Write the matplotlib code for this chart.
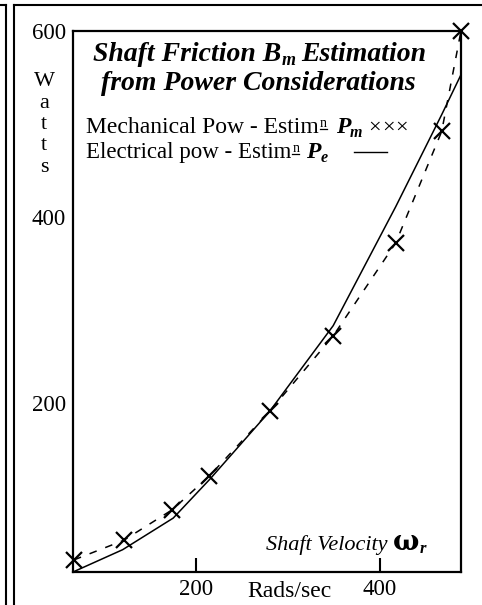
import matplotlib
matplotlib.use('Agg')
import matplotlib.pyplot as plt
from matplotlib.lines import Line2D

# ---------------- data ----------------
speed_mech = [67, 121, 174, 214, 280, 349, 417, 467, 488]
power_mech = [31, 52, 85, 121, 191, 272, 372, 492, 600]
speed_elec = [66, 120, 175, 215, 280, 349, 417, 467, 488]
power_elec = [18, 42, 76, 118, 191, 283, 411, 510, 553]
xticks = [200, 400]
yticks = [200, 400, 600]
ylabel_letters = ['W', 'a', 't', 't', 's']

W, H = 482, 605
SERIF = ['Liberation Serif', 'DejaVu Serif']
plt.rcParams['font.family'] = SERIF

fig = plt.figure(figsize=(W / 100, H / 100), dpi=100)
ax = fig.add_axes([73 / W, 1 - 572 / H, (461 - 73) / W, (572 - 31) / H])
ax.set_xlim(66, 488)
ax.set_ylim(18, 600)

ax.plot(speed_elec, power_elec, color='black', lw=1.1, clip_on=False)
ax.plot(speed_mech, power_mech, color='black', lw=1.1, linestyle=(0, (5, 6)),
        marker='x', markersize=11, markeredgewidth=1.6, clip_on=False, zorder=3)

for s in ax.spines.values():
    s.set_linewidth(1.6)
ax.set_xticks(xticks)
ax.set_yticks(yticks)
ax.set_xticklabels([str(v) for v in xticks])
ax.set_yticklabels([str(v) for v in yticks])
ax.tick_params(axis='x', direction='in', length=10, width=1.5, pad=5, labelsize=16.5)
ax.tick_params(axis='y', length=0, pad=5, labelsize=16.5)

# ---------------- helpers ----------------
def fx(x):
    return x / W

def fy(y):
    return 1 - y / H

renderer = fig.canvas.get_renderer()

def place(parts, x, y, ha='left'):
    items = []
    cx = x
    for p in parts:
        s, kw, dy, gap = p
        t = fig.text(fx(cx), fy(y + dy), s, va='baseline', ha='left', **kw)
        w = t.get_window_extent(renderer).width
        items.append((t, cx, w))
        cx += w + gap
    total = cx - x
    shift = total / 2 if ha == 'center' else 0
    out = []
    for t, tx, w in items:
        t.set_x(fx(tx - shift))
        out.append((tx - shift, w))
    return out

def fline(x0, y0, x1, y1, lw=1.2):
    fig.add_artist(Line2D([fx(x0), fx(x1)], [fy(y0), fy(y1)],
                          transform=fig.transFigure, color='black', lw=lw))

# ---------------- title ----------------
bi = dict(fontsize=20, fontweight='bold', fontstyle='italic')
bis = dict(fontsize=13, fontweight='bold', fontstyle='italic')
place([('Shaft Friction B', bi, 0, 0), ('m', bis, 4, 6), ('Estimation', bi, 0, 0)],
      260, 61, ha='center')
place([('from Power Considerations', bi, 0, 0)], 258, 90, ha='center')

# ---------------- legend texts ----------------
rm1 = dict(fontsize=17)
rm2 = dict(fontsize=16.5)
sup = dict(fontsize=10)
pb = dict(fontsize=17, fontweight='bold', fontstyle='italic')
pbs = dict(fontsize=11.5, fontweight='bold', fontstyle='italic')
xs = dict(fontsize=16)

r1 = place([('Mechanical Pow - Estim', rm1, 0, 1), ('n', sup, -6, 9),
            ('P', pb, 0, 0), ('m', pbs, 4, 6),
            ('\u00d7', xs, 0, 1), ('\u00d7', xs, 0, 1), ('\u00d7', xs, 0, 0)],
           86, 133)
nx, nw = r1[1]
fline(nx, 128.5, nx + nw, 128.5, lw=0.9)

r2 = place([('Electrical pow - Estim', rm2, 0, 1), ('n', sup, -6, 7),
            ('P', pb, 0, 0), ('e', pbs, 4, 0)], 86, 158)
nx, nw = r2[1]
fline(nx, 153.5, nx + nw, 153.5, lw=0.9)
fline(354, 152, 387, 152, lw=1.0)

# ---------------- y label (stacked) ----------------
for i, ch in enumerate(ylabel_letters):
    fig.text(fx(44), fy(86 + i * 21.5), ch, fontsize=16, ha='center', va='baseline')

# ---------------- x labels ----------------
it = dict(fontsize=16, fontstyle='italic')
place([('Shaft Velocity ', it, 0, 0),
       ('\u03c9', dict(fontsize=20, fontweight='bold', family=['DejaVu Serif']), 0, 0),
       ('r', dict(fontsize=12, fontweight='bold', fontstyle='italic'), 3, 0)],
      266, 550)
fig.text(fx(289), fy(597), 'Rads/sec', fontsize=17, ha='center', va='baseline')

# ---------------- outer frames ----------------
fline(14, 5, 482, 5, lw=1.5)
fline(14, 5, 14, 605, lw=1.5)
fline(0, 5, 6, 5, lw=1.5)
fline(6, 5, 6, 605, lw=1.5)

fig.savefig('out.png', dpi=100)
